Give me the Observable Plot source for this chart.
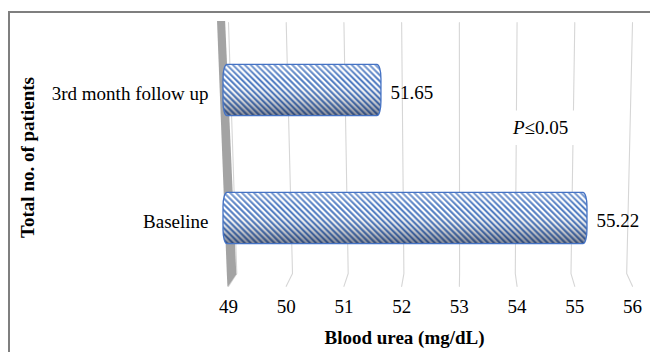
<!DOCTYPE html>
<html><head><meta charset="utf-8">
<script src="https://cdn.jsdelivr.net/npm/d3@7"></script>
<script src="https://cdn.jsdelivr.net/npm/@observablehq/plot@0.6"></script>
<style>
html,body{margin:0;padding:0;background:#fff;}
#wrap{position:relative;width:650px;height:352px;overflow:hidden;background:#fff;}
#frame{position:absolute;left:8px;top:11px;width:700px;height:400px;border-left:2px solid #7f7f7f;border-top:2px solid #7f7f7f;box-sizing:border-box;}
#chart{position:absolute;left:0;top:0;}
</style></head><body>
<div id="wrap"><div id="frame"></div><div id="chart"></div></div>
<script>
const categories = ["3rd month follow up", "Baseline"];
const values = [51.65, 55.22];
const xTicks = [49, 50, 51, 52, 53, 54, 55, 56];
const xTitle = "Blood urea (mg/dL)";
const yTitle = "Total no. of patients";
const pNote = {italic: "P", rest: "≤0.05"};

const rows = categories.map((c, i) => ({category: c, row: i, value: values[i]}));

// 3D perspective of the back wall / floor (scale units)
const base = xTicks[0];
const yTop = -0.53, yBack = 1.43, yFront = 1.53;
const back = v => base + 0.144 + (v - base) * 0.965;
const grid = xTicks.flatMap(v => [
  {tick: v, x: v, y: yTop},
  {tick: v, x: back(v), y: yBack},
  {tick: v, x: v, y: yFront}
]);
const wall = [
  {y: yTop - 0.01, x1: base - 0.19, x2: base - 0.05},
  {y: yBack + 0.01, x1: base - 0.02, x2: back(base)},
  {y: yFront + 0.005, x1: base - 0.01, x2: base}
];

const font = "'Liberation Serif', 'Times New Roman', serif";
const barY1 = d => d.row - 0.2, barY2 = d => d.row + 0.2;
const chart = Plot.plot({
  width: 650, height: 352,
  marginLeft: 212, marginRight: 54, marginTop: 26, marginBottom: 70,
  x: {domain: [49, 56], range: [228, 632]},
  y: {domain: [-0.5, 1.5], range: [26, 282]},
  style: {fontFamily: font, fontSize: "19px", color: "#000", background: "transparent", overflow: "visible"},
  marks: [
    Plot.line(grid, {x: "x", y: "y", z: "tick", stroke: "#d6d6d6", strokeWidth: 1.1}),
    Plot.areaX(wall, {y: "y", x1: "x1", x2: "x2", fill: "#a3a3a3"}),
    Plot.rect(rows, {x1: base, x2: "value", y1: barY1, y2: barY2, insetLeft: -5, rx: 4, ry: 14, fill: "url(#hatch)"}),
    Plot.rect(rows, {x1: base, x2: "value", y1: barY1, y2: barY2, insetLeft: -5, rx: 4, ry: 14, fill: "url(#shade)", stroke: "#4472c4", strokeWidth: 1.3}),
    Plot.text(rows, {x: "value", y: "row", text: d => d.value.toFixed(2), dx: 9, dy: 2, textAnchor: "start", fontSize: 19, fill: "#000"}),
    Plot.rect([pNote], {x1: 53.8, x2: 55.1, y1: 0.16, y2: 0.43, fill: "white"}),
    Plot.text([pNote], {x: 54.13, y: 0.29, text: "italic", textAnchor: "end", fontStyle: "italic", fontSize: 19, fill: "#000"}),
    Plot.text([pNote], {x: 54.13, y: 0.29, text: "rest", textAnchor: "start", fontSize: 19, fill: "#000"}),
    Plot.axisX({ticks: xTicks, tickSize: 0, tickPadding: 17, tickFormat: d => d, label: null, fontSize: 19}),
    Plot.axisY({ticks: [0, 1], tickSize: 0, tickPadding: 4, tickFormat: i => categories[i], label: null, fontSize: 19, dy: 3}),
    Plot.text([xTitle], {frameAnchor: "bottom", lineAnchor: "middle", dy: 55, fontWeight: "bold", fontSize: 19, text: d => d}),
    Plot.text([yTitle], {frameAnchor: "left", textAnchor: "middle", lineAnchor: "middle", rotate: -90, dx: -185, dy: 3, fontWeight: "bold", fontSize: 19, text: d => d})
  ]
});

const svg = d3.select(chart);
const defs = svg.insert("defs", ":first-child");
const pat = defs.append("pattern").attr("id", "hatch").attr("patternUnits", "userSpaceOnUse")
  .attr("width", 4.2).attr("height", 4.2).attr("patternTransform", "rotate(-45)");
pat.append("rect").attr("width", 4.2).attr("height", 4.2).attr("fill", "#ffffff");
pat.append("line").attr("x1", 1.2).attr("y1", 0).attr("x2", 1.2).attr("y2", 4.2)
  .attr("stroke", "#3f6fbc").attr("stroke-width", 1.9);
const grad = defs.append("linearGradient").attr("id", "shade").attr("x1", 0).attr("y1", 0).attr("x2", 0).attr("y2", 1);
[[0, "#ffffff", 0.3], [0.3, "#ffffff", 0.0], [0.65, "#203050", 0.15], [1, "#1a2540", 0.55]].forEach(([o, c, a]) =>
  grad.append("stop").attr("offset", o).attr("stop-color", c).attr("stop-opacity", a));

document.getElementById("chart").appendChild(chart);
</script>
</body></html>
